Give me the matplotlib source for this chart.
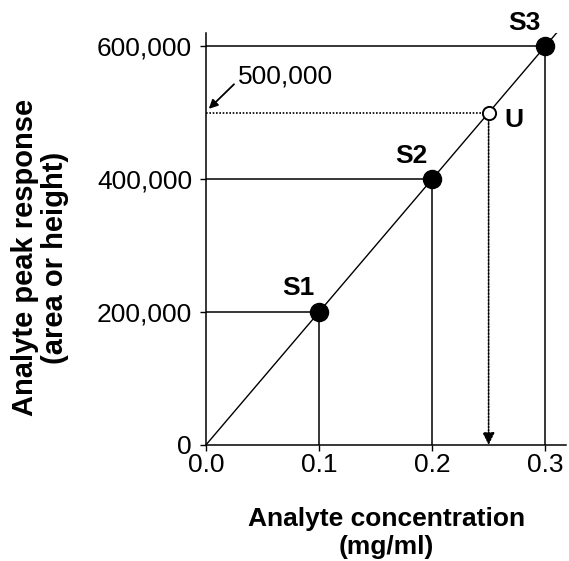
import matplotlib.pyplot as plt

plt.rcParams['font.family'] = ['Liberation Sans', 'DejaVu Sans']

# standards and unknown
std_labels = ['S1', 'S2', 'S3']
std_conc = [0.1, 0.2, 0.3]
std_resp = [200000, 400000, 600000]
unk_label = 'U'
unk_conc = 0.25
unk_resp = 500000
# calibration line ends
line_x = [0.0, 0.31]
line_y = [0, 620000]

x_ticks = [0.0, 0.1, 0.2, 0.3]
x_ticklabels = ['0.0', '0.1', '0.2', '0.3']
y_ticks = [0, 200000, 400000, 600000]
y_ticklabels = ['0', '200,000', '400,000', '600,000']

# callout "500,000" with its arrow
callout_text = '500,000'
callout_text_xy = (0.0285, 555000)
callout_tail_xy = (0.0248, 543000)
callout_tip_xy = (0.0025, 506000)

fig = plt.figure(figsize=(5.69, 5.61), dpi=100)
ax = fig.add_axes([0.362, 0.207, 0.633, 0.734])

ax.plot(line_x, line_y, color='black', linewidth=1.0, zorder=2)

# solid guide lines to the standards
for x, y in zip(std_conc, std_resp):
    ax.plot([0, x], [y, y], color='black', linewidth=1.1, zorder=1)
    ax.plot([x, x], [0, y], color='black', linewidth=1.1, zorder=1)

ax.plot(std_conc, std_resp, 'o', color='black', markersize=13, zorder=3)

# dotted guides for the unknown
ax.plot([0, unk_conc], [unk_resp, unk_resp], color='black', linewidth=1.2,
        linestyle=(0, (1.0, 1.0)), zorder=1)
ax.annotate('', xy=(unk_conc, 0), xytext=(unk_conc, unk_resp),
            arrowprops=dict(arrowstyle='-|>', color='black', lw=1.2,
                            linestyle=(0, (1.0, 1.0)), mutation_scale=18,
                            shrinkA=0, shrinkB=0))
ax.plot([unk_conc], [unk_resp], 'o', markerfacecolor='white',
        markeredgecolor='black', markeredgewidth=1.4, markersize=9.5, zorder=3)

for lab, x, y in zip(std_labels, std_conc, std_resp):
    ax.annotate(lab, xy=(x, y), xytext=(-15, 17), textcoords='offset points',
                ha='center', va='center', fontsize=19, fontweight='bold')
ax.annotate(unk_label, xy=(unk_conc, unk_resp), xytext=(18, -5),
            textcoords='offset points', ha='center', va='center',
            fontsize=19, fontweight='bold')

ax.text(callout_text_xy[0], callout_text_xy[1], callout_text,
        ha='left', va='center', fontsize=19)
ax.annotate('', xy=callout_tip_xy, xytext=callout_tail_xy,
            arrowprops=dict(arrowstyle='-|>', color='black', lw=1.3,
                            shrinkA=0, shrinkB=0, mutation_scale=13))

ax.set_xlim(0, 0.3186)
ax.set_ylim(0, 620000)
ax.set_xticks(x_ticks)
ax.set_xticklabels(x_ticklabels)
ax.set_yticks(y_ticks)
ax.set_yticklabels(y_ticklabels)
ax.tick_params(labelsize=19, length=4, width=1, direction='out')
ax.tick_params(axis='y', pad=6)
ax.tick_params(axis='x', pad=2)

ax.spines['top'].set_visible(False)
ax.spines['right'].set_visible(False)
ax.spines['left'].set_linewidth(1.1)
ax.spines['bottom'].set_linewidth(1.1)

ax.set_xlabel('Analyte concentration\n(mg/ml)', fontsize=19, fontweight='bold',
              linespacing=1.25, va='top')
ax.xaxis.set_label_coords(0.5, -0.15)
ax.set_ylabel('Analyte peak response\n(area or height)', fontsize=21,
              fontweight='bold', linespacing=1.1)
ax.yaxis.set_label_coords(-0.38, 0.454)

fig.savefig('out.png', dpi=100)
